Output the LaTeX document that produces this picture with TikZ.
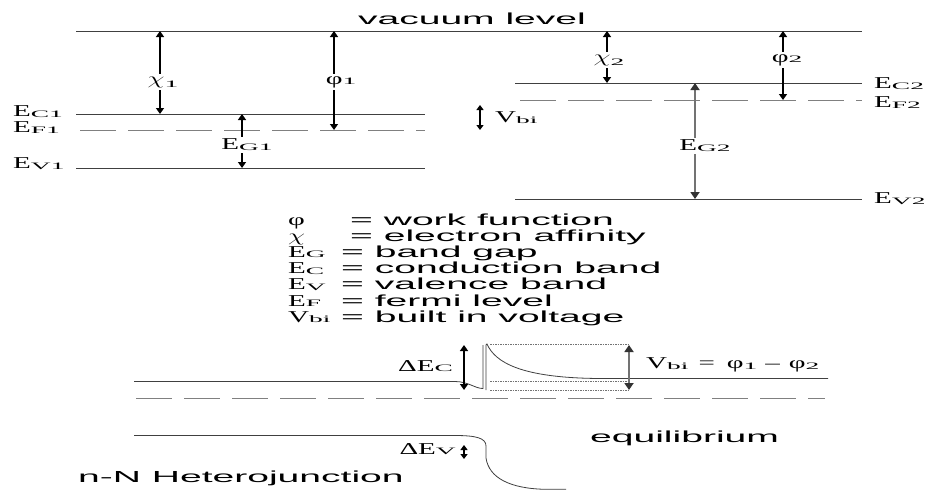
\documentclass[tikz,border=0pt]{standalone}
\usepackage{fontspec}
\usepackage{graphicx}
\usetikzlibrary{arrows.meta}
\setmainfont{Liberation Serif}
\newfontfamily\sansw[FakeStretch=2.44]{Liberation Sans}
\newfontfamily\serw[FakeStretch=1.75]{Liberation Serif}
\newfontfamily\sers[FakeStretch=2.8]{Liberation Serif}
\newcommand\SymA[1]{{\serw\fontsize{16.6}{18}\selectfont #1}}
\newcommand\SubA[1]{{\sers\fontsize{9.8}{10}\selectfont\raisebox{-0.8pt}{#1}}}
\newcommand\SubB[1]{{\sers\fontsize{9.8}{10}\selectfont\raisebox{-3pt}{#1}}}
\newcommand\Lbl[2]{\SymA{#1}\SubA{#2}}
\newcommand\ChiG{{\fontsize{16.6}{18}\selectfont\scalebox{1.6}[1]{$\chi$}}}
\newcommand\Txt[1]{{\sansw\fontsize{16}{18}\selectfont #1}}
\tikzset{
  level/.style={black!75, line width=0.8pt},
  dlevel/.style={black!50, line width=0.9pt, dash pattern=on 36pt off 12pt},
  dotl/.style={black!55, line width=0.5pt, dash pattern=on 1.5pt off 1pt},
  dbl/.style={{Triangle[length=6pt,width=8pt]}-{Triangle[length=6pt,width=8pt]}, line width=1.4pt, black},
  dblsmall/.style={{Triangle[length=5pt,width=7pt]}-{Triangle[length=5pt,width=7pt]}, line width=1.3pt, black},
  dblgray/.style={{Triangle[length=7pt,width=9pt,black!80]}-{Triangle[length=7pt,width=9pt,black!80]}, line width=2.8pt, black!55},
  lab/.style={inner sep=0pt},
  cut/.style={inner sep=2.5pt, fill=white},
}
\begin{document}
\begin{tikzpicture}[x=1pt,y=-1pt]
\useasboundingbox (0,0) rectangle (929,490);
\fill[white] (0,0) rectangle (929,490);

% ---------- top: coordinates ----------
\coordinate (vacL) at (76,31);   \coordinate (vacR) at (862,31);
\coordinate (c1L) at (76,114);   \coordinate (c1R) at (425,114);
\coordinate (f1L) at (80,130);   \coordinate (f1R) at (425,130);
\coordinate (v1L) at (76,168);   \coordinate (v1R) at (425,168);
\coordinate (c2L) at (515,83);   \coordinate (c2R) at (862,83);
\coordinate (f2L) at (520,100);  \coordinate (f2R) at (862,100);
\coordinate (v2L) at (515,199);  \coordinate (v2R) at (862,199);

\draw[level] (vacL) -- (vacR);
\draw[level] (c1L) -- (c1R);
\draw[dlevel] (f1L) -- (f1R);
\draw[level] (v1L) -- (v1R);
\draw[level] (c2L) -- (c2R);
\draw[dlevel] (f2L) -- (f2R);
\draw[level] (v2L) -- (v2R);

\node[lab, anchor=base] (vac) at (472,24) {\Txt{vacuum level}};

% arrows left
\coordinate (chi1t) at (160,31);  \coordinate (chi1b) at (160,114);
\coordinate (phi1t) at (334,31);  \coordinate (phi1b) at (334,130);
\coordinate (eg1t) at (242,114);  \coordinate (eg1b) at (242,168);
\draw[dbl] (chi1t) -- (chi1b);
\draw[dbl] (phi1t) -- (phi1b);
\draw[dbl] (eg1t) -- (eg1b);
\node[cut] (chi1) at (163,82) {\ChiG\SubB{1}};
\node[cut] (phi1) at (341,82) {\Lbl{φ}{1}};
\node[cut] (eg1) at (247,145) {\Lbl{E}{G1}};

% arrows right
\coordinate (chi2t) at (607,31);  \coordinate (chi2b) at (607,83);
\coordinate (phi2t) at (783,31);  \coordinate (phi2b) at (783,100);
\coordinate (eg2t) at (695,83);   \coordinate (eg2b) at (695,199);
\coordinate (vbt) at (480,105);   \coordinate (vbb) at (480,130);
\draw[dbl] (chi2t) -- (chi2b);
\draw[dbl] (phi2t) -- (phi2b);
\draw[dblgray] (eg2t) -- (eg2b);
\draw[dblsmall] (vbt) -- (vbb);
\node[cut] (chi2) at (609,60) {\ChiG\SubB{2}};
\node[cut] (phi2) at (787,60) {\Lbl{φ}{2}};
\node[cut] (eg2) at (705,146) {\Lbl{E}{G2}};
\node[lab, anchor=west] (vbi) at (495,118) {\Lbl{V}{bi}};

% level labels
\node[lab, anchor=west] (ec1) at (13,111.5) {\Lbl{E}{C1}};
\node[lab, anchor=west] (ef1) at (13,127.5) {\Lbl{E}{F1}};
\node[lab, anchor=west] (ev1) at (13,164) {\Lbl{E}{V1}};
\node[lab, anchor=west] (ec2) at (874,84) {\Lbl{E}{C2}};
\node[lab, anchor=west] (ef2) at (874,102.5) {\Lbl{E}{F2}};
\node[lab, anchor=west] (ev2) at (874,199) {\Lbl{E}{V2}};

% ---------- legend ----------
\node[lab, anchor=base west] (s1) at (288,225) {\SymA{φ}};
\node[lab, anchor=base west] (s2) at (288,241) {\ChiG};
\node[lab, anchor=base west] (s3) at (288,257) {\Lbl{E}{G}};
\node[lab, anchor=base west] (s4) at (288,273.5) {\Lbl{E}{C}};
\node[lab, anchor=base west] (s5) at (288,289.5) {\Lbl{E}{V}};
\node[lab, anchor=base west] (s6) at (288,306) {\Lbl{E}{F}};
\node[lab, anchor=base west] (s7) at (288,322) {\Lbl{V}{bi}};
\node[lab, anchor=base west] (t1) at (350,225) {\Txt{= work function}};
\node[lab, anchor=base west] (t2) at (350,241) {\Txt{= electron affinity}};
\node[lab, anchor=base west] (t3) at (341,257) {\Txt{= band gap}};
\node[lab, anchor=base west] (t4) at (341,273.5) {\Txt{= conduction band}};
\node[lab, anchor=base west] (t5) at (341,289.5) {\Txt{= valence band}};
\node[lab, anchor=base west] (t6) at (341,306) {\Txt{= fermi level}};
\node[lab, anchor=base west] (t7) at (341,322) {\Txt{= built in voltage}};

% ---------- bottom band diagram ----------
\coordinate (cbL) at (134,381.5);
\coordinate (cbA) at (455,381.5);
\coordinate (cbN) at (483,388.5);
\coordinate (jT1) at (483,345);
\coordinate (jB2) at (486,390);
\coordinate (jT2) at (486,345);
\coordinate (spk) at (487,344);
\coordinate (cbF) at (600,378.5);
\coordinate (cbR) at (828,378.5);
\draw[level] (cbL) -- (cbA) .. controls (468,381.5) and (475,388.5) .. (cbN) -- (jT1);
\draw[level] (jB2) -- (jT2) -- (spk) .. controls (495,362) and (520,378) .. (cbF) -- (cbR);

\coordinate (bxTL) at (490,344); \coordinate (bxTR) at (630,344);
\coordinate (bxML) at (490,381.7); \coordinate (bxMR) at (630,381.7);
\coordinate (bxBL) at (490,390); \coordinate (bxBR) at (630,390);
\draw[dotl] (bxTL) -- (bxTR);
\draw[dotl] (bxML) -- (bxMR);
\draw[dotl] (bxBL) -- (bxBR);

\coordinate (fL) at (136,398); \coordinate (fR) at (825,398);
\draw[dlevel] (fL) -- (fR);

\coordinate (vbL) at (134,435.5);
\coordinate (vbA) at (455,435.5);
\coordinate (vbK) at (486,446);
\coordinate (vbK2) at (486,458);
\coordinate (vbE) at (545,489.3);
\coordinate (vbR) at (566,489.3);
\draw[level] (vbL) -- (vbA) .. controls (476,435.5) and (486,438) .. (vbK) -- (vbK2)
  .. controls (489,478) and (510,488.5) .. (vbE) -- (vbR);

\coordinate (dect) at (464,345); \coordinate (decb) at (464,390);
\coordinate (vbit) at (629,345); \coordinate (vbib) at (629,390);
\coordinate (devt) at (464,445); \coordinate (devb) at (464,459);
\draw[dbl] (dect) -- (decb);
\draw[dblgray, line width=2.2pt] (vbit) -- (vbib);
\draw[dblsmall] (devt) -- (devb);

\node[lab, anchor=east] (dec) at (453,366) {\SymA{ΔE}\SubA{C}};
\node[lab, anchor=east] (dev) at (456,449) {\SymA{ΔE}\SubA{V}};
\node[lab, anchor=west] (vbieq) at (646,365) {\Lbl{V}{bi}\hspace{10pt}\SymA{=}\hspace{12pt}\SymA{φ}\SubA{1}\hspace{8pt}\SymA{–}\hspace{9pt}\SymA{φ}\SubA{2}};

\node[lab, anchor=base west] (eq) at (590,442) {\Txt{equilibrium}};
\node[lab, anchor=base west] (het) at (78,482) {\Txt{n-N Heterojunction}};
\end{tikzpicture}
\end{document}
